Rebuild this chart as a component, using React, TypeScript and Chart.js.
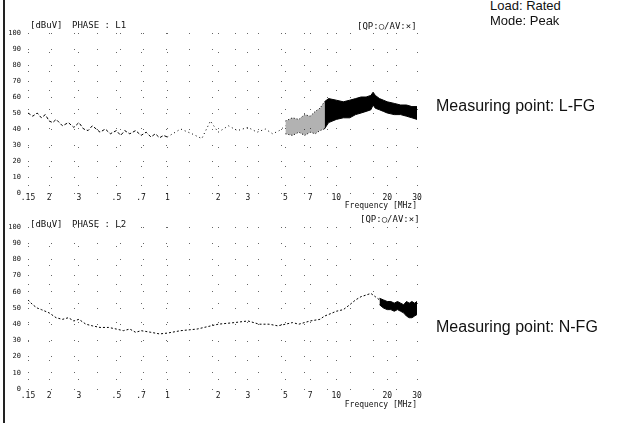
import React, { useEffect, useRef } from "react";
import { Chart, registerables } from "chart.js";

Chart.register(...registerables);

// ---------- axis definitions ----------
const X_TICKS = [0.15, 0.2, 0.3, 0.5, 0.7, 1, 2, 3, 5, 7, 10, 20, 30];
const X_TICK_LABELS = [".15", "2", "3", ".5", ".7", "1", "2", "3", "5", "7", "10", "20", "30"];
const Y_MIN = 0;
const Y_MAX = 100;
const Y_STEP = 10;

// ---------- L1 (Measuring point: L-FG) ----------
const L1_LOW_FREQ = [0.15, 0.16, 0.17, 0.18, 0.19, 0.2, 0.21, 0.22, 0.24, 0.26, 0.28, 0.3, 0.32, 0.34, 0.36, 0.38, 0.4, 0.43, 0.46, 0.5, 0.53, 0.56, 0.6, 0.65, 0.7, 0.75, 0.8, 0.85, 0.9, 0.95, 1.0];
const L1_LOW_LEVEL = [50, 48, 50, 47, 49, 45, 44, 46, 42, 44, 41, 44, 40, 39, 42, 40, 38, 40, 37, 39, 36, 39, 37, 39, 36, 38, 35, 37, 34.5, 36, 35];
const L1_MID_FREQ = [1.0, 1.2, 1.4, 1.6, 1.8, 2.0, 2.3, 2.6, 3.0, 3.4, 3.8, 4.2, 4.6, 5.0];
const L1_MID_LEVEL = [35, 40, 37, 34, 45, 38, 42, 39, 41, 38, 40, 37, 39, 42];
const L1_SPARSE_FREQ = [5.0, 5.5, 6.0, 6.5, 7.0, 7.5, 8.0, 8.5];
const L1_SPARSE_UPPER = [45, 47, 46, 49, 48, 51, 53, 57];
const L1_SPARSE_LOWER = [37, 36, 38, 36, 38, 37, 39, 40];
const L1_DENSE_FREQ = [8.5, 9, 10, 11, 12, 13, 14, 15, 16, 16.5, 17, 18, 19, 20, 22, 24, 26, 28, 30];
const L1_DENSE_UPPER = [57, 59, 58, 57, 58, 59, 60, 60, 61, 63, 61, 59, 58, 57, 56, 55, 55, 54, 54];
const L1_DENSE_LOWER = [40, 44, 46, 47, 47, 49, 50, 51, 52, 55, 53, 52, 51, 50, 49, 49, 48, 47, 46];

// ---------- L2 (Measuring point: N-FG) ----------
const L2_FREQ = [0.15, 0.16, 0.17, 0.18, 0.2, 0.22, 0.24, 0.26, 0.28, 0.3, 0.33, 0.36, 0.4, 0.45, 0.5, 0.55, 0.6, 0.65, 0.7, 0.8, 0.9, 1.0, 1.2, 1.5, 2.0, 2.5, 3.0, 3.5, 4.0, 4.5, 5.0, 5.5, 6.0, 7.0, 8.0, 8.5, 9, 10, 11, 12, 13, 14, 15, 16, 17, 18];
const L2_LEVEL = [55, 52, 50, 49, 47, 44, 43, 44, 42, 43, 40, 39, 38, 38, 37, 36, 37, 35, 36, 35, 34, 34.5, 36, 37, 40, 41, 42, 40, 40, 39, 40, 41, 40, 42, 43, 45, 46, 48, 49, 52, 55, 57, 58, 59, 57, 55];
const L2_DENSE_FREQ = [18, 19, 20, 21, 22, 23, 24, 25, 26, 27, 28, 29, 30];
const L2_DENSE_UPPER = [56, 55, 54, 54, 53, 54, 53, 52, 54, 53, 54, 53, 54];
const L2_DENSE_LOWER = [52, 50, 49, 49, 48, 49, 48, 47, 45, 44, 44, 45, 46];

const pts = (xs: number[], ys: number[]) => xs.map((x, i) => ({ x, y: ys[i] }));

const MONO = "'DejaVu Sans Mono', monospace";

function lineDs(data: any[], extra: any = {}) {
  return {
    data,
    borderColor: "#000",
    backgroundColor: "#000",
    borderWidth: 1,
    pointRadius: 0,
    tension: 0,
    fill: false,
    ...extra,
  };
}

function makeConfig(datasets: any[], xAxisHeight: number, tickPad: number) {
  return {
    type: "line",
    data: { datasets },
    options: {
      animation: false,
      responsive: false,
      maintainAspectRatio: false,
      layout: { padding: { top: 33, right: 23, left: 0, bottom: 0 } },
      plugins: { legend: { display: false }, tooltip: { enabled: false } },
      scales: {
        x: {
          type: "logarithmic",
          min: X_TICKS[0],
          max: X_TICKS[X_TICKS.length - 1],
          afterBuildTicks: (s: any) => {
            s.ticks = X_TICKS.map((v) => ({ value: v }));
          },
          afterFit: (s: any) => {
            s.height = xAxisHeight;
          },
          grid: { color: "#666", lineWidth: 1, drawTicks: false },
          border: { display: false, dash: [1, 18] },
          ticks: {
            autoSkip: false,
            maxRotation: 0,
            padding: tickPad,
            color: "#111",
            font: { family: MONO, size: 8 },
            callback: (_v: any, i: number) => X_TICK_LABELS[i],
          },
          title: {
            display: true,
            text: "Frequency [MHz]",
            align: "end",
            color: "#111",
            padding: 0,
            font: { family: MONO, size: 8 },
          },
        },
        y: {
          min: Y_MIN,
          max: Y_MAX,
          afterFit: (s: any) => {
            s.width = 28;
          },
          grid: { color: "#666", lineWidth: 1, drawTicks: false },
          border: { display: false, dash: [1, 22] },
          ticks: {
            stepSize: Y_STEP,
            padding: 7,
            color: "#111",
            font: { family: MONO, size: 7 },
          },
        },
      },
    },
  };
}

function Panel({ top, height, datasets, xAxisHeight, tickPad }: any) {
  const ref = useRef<HTMLCanvasElement>(null);
  useEffect(() => {
    const chart = new Chart(ref.current as HTMLCanvasElement, makeConfig(datasets, xAxisHeight, tickPad) as any);
    return () => chart.destroy();
  }, []);
  return (
    <canvas
      ref={ref}
      width={440}
      height={height}
      style={{ position: "absolute", left: 0, top, width: 440, height }}
    />
  );
}

const headerStyle: any = {
  position: "absolute",
  fontFamily: MONO,
  fontSize: 9,
  color: "#111",
  whiteSpace: "nowrap",
  lineHeight: "10px",
};

const noteStyle: any = {
  position: "absolute",
  fontFamily: "'Liberation Sans', Arial, sans-serif",
  color: "#111",
  whiteSpace: "nowrap",
};

export default function App() {
  const l1 = [
    lineDs(pts(L1_LOW_FREQ, L1_LOW_LEVEL), { borderDash: [3, 2] }),
    lineDs(pts(L1_MID_FREQ, L1_MID_LEVEL), { borderDash: [1, 3] }),
    lineDs(pts(L1_SPARSE_FREQ, L1_SPARSE_UPPER), { borderDash: [1, 2] }),
    lineDs(pts(L1_SPARSE_FREQ, L1_SPARSE_LOWER), { borderDash: [1, 2], fill: "-1", backgroundColor: "rgba(0,0,0,0.3)" }),
    lineDs(pts(L1_DENSE_FREQ, L1_DENSE_UPPER)),
    lineDs(pts(L1_DENSE_FREQ, L1_DENSE_LOWER), { fill: "-1", backgroundColor: "#000" }),
  ];
  const l2 = [
    lineDs(pts(L2_FREQ, L2_LEVEL), { borderDash: [2, 2] }),
    lineDs(pts(L2_DENSE_FREQ, L2_DENSE_UPPER)),
    lineDs(pts(L2_DENSE_FREQ, L2_DENSE_LOWER), { fill: "-1", backgroundColor: "#000" }),
  ];
  return (
    <div style={{ position: "absolute", left: 0, top: 0, width: 626, height: 423, background: "#fff", overflow: "hidden" }}>
      <div style={{ position: "absolute", left: 3, top: 0, width: 2, height: 423, background: "#222" }} />
      <Panel top={0} height={211} datasets={l1} xAxisHeight={18} tickPad={0} />
      <Panel top={194} height={216} datasets={l2} xAxisHeight={21} tickPad={2} />

      <span style={{ ...headerStyle, left: 30, top: 20 }}>[dBuV]</span>
      <span style={{ ...headerStyle, left: 72, top: 20 }}>PHASE : L1</span>
      <span style={{ ...headerStyle, left: 357, top: 21 }}>[QP:○/AV:×]</span>

      <span style={{ ...headerStyle, left: 30, top: 219 }}>[dBuV]</span>
      <span style={{ ...headerStyle, left: 72, top: 219 }}>PHASE : L2</span>
      <span style={{ ...headerStyle, left: 360, top: 214 }}>[QP:○/AV:×]</span>

      <span style={{ ...noteStyle, left: 490, top: -2, fontSize: 13 }}>Load: Rated</span>
      <span style={{ ...noteStyle, left: 490, top: 13, fontSize: 13 }}>Mode: Peak</span>
      <span style={{ ...noteStyle, left: 436, top: 97, fontSize: 16 }}>Measuring point: L-FG</span>
      <span style={{ ...noteStyle, left: 436, top: 318, fontSize: 16 }}>Measuring point: N-FG</span>
    </div>
  );
}
